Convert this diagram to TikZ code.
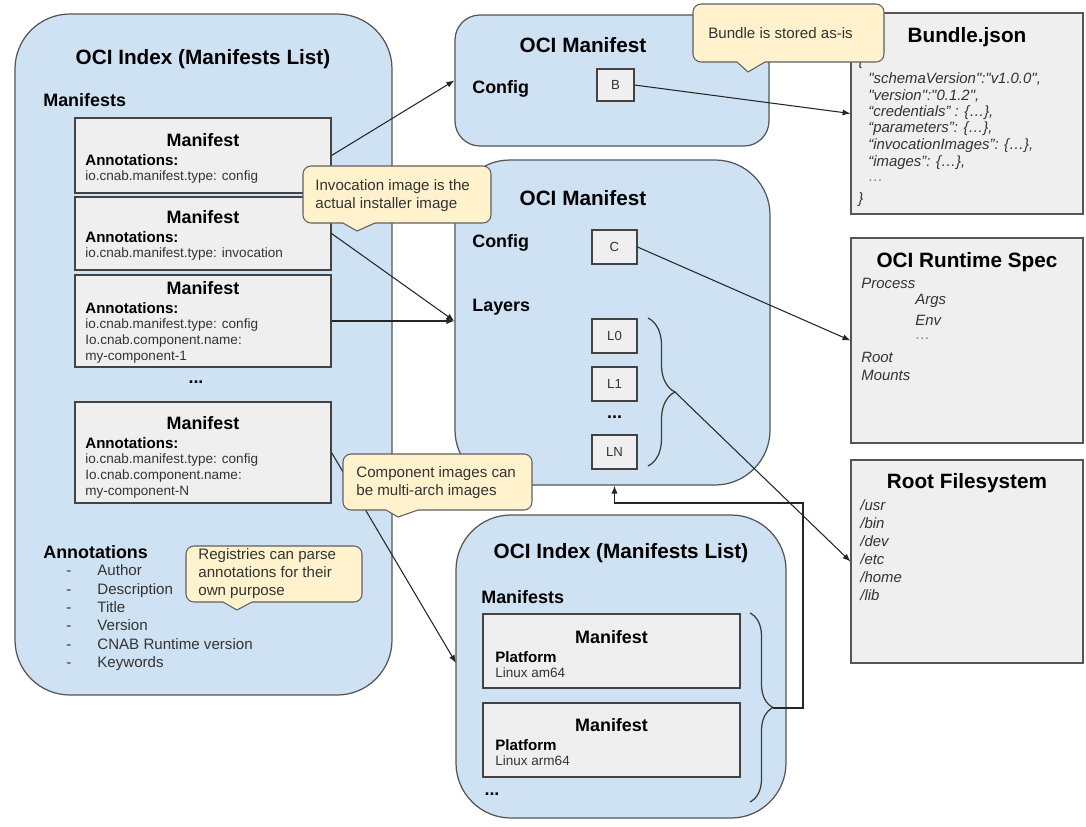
\documentclass[tikz,border=0pt]{standalone}
\usepackage{fontspec}
\setmainfont{Liberation Sans}[Ligatures=TeXOff]
\usetikzlibrary{arrows.meta,fit,decorations.pathreplacing}
\definecolor{groupBlue}{RGB}{207,226,243}
\definecolor{frameGray}{RGB}{85,85,85}
\definecolor{cardGray}{RGB}{239,239,239}
\definecolor{cardFrame}{RGB}{67,67,67}
\definecolor{noteYellow}{RGB}{255,242,204}
\definecolor{noteFrame}{RGB}{95,95,95}
\definecolor{inkGray}{RGB}{51,51,51}
\definecolor{dotsGray}{RGB}{125,125,125}
\newcommand{\fontHeading}{\fontsize{11.8}{14}\selectfont\bfseries}
\newcommand{\fontSection}{\fontsize{10.2}{12}\selectfont\bfseries}
\newcommand{\fontField}{\fontsize{8.6}{10}\selectfont\bfseries}
\newcommand{\fontBody}{\fontsize{7.7}{9}\selectfont}
\newcommand{\fontNote}{\fontsize{8.6}{10.2}\selectfont}
\newcommand{\fontSpec}{\fontsize{8.5}{10}\selectfont\itshape}
\tikzstyle{canvas} = [x = 0.02cm, y = -0.02cm]
\tikzstyle{groupBox} = [draw=frameGray, fill=groupBlue, line width=0.7pt, rounded corners = 1.1cm, inner sep=0pt]
\tikzstyle{smallGroupBox} = [groupBox, rounded corners = 0.5cm]
\tikzstyle{cardBox} = [draw=cardFrame, fill=cardGray, line width=0.6pt, inner sep=0pt]
\tikzstyle{sheetBox} = [cardBox, draw=frameGray]
\tikzstyle{tagBox} = [cardBox, minimum width=0.9cm, minimum height=0.68cm, font=\fontsize{7.5}{9}\selectfont, text=inkGray]
\tikzstyle{noteBox} = [draw=noteFrame, fill=noteYellow, line width=0.6pt, rounded corners = 0.16cm, inner sep=0pt]
\tikzstyle{heading} = [font=\fontHeading, inner sep=0pt]
\tikzstyle{cardHeading} = [font=\fontSection, inner sep=0pt]
\tikzstyle{sectionLabel} = [font=\fontSection, anchor=west, inner sep=0pt]
\tikzstyle{dotsLabel} = [font=\fontSection, inner sep=0pt]
\tikzstyle{fieldLabel} = [font=\fontField, anchor=west, inner sep=0pt]
\tikzstyle{fieldText} = [font=\fontBody, text=inkGray, anchor=west, inner sep=0pt]
\tikzstyle{listText} = [font=\fontNote, text=inkGray, anchor=west, inner sep=0pt, text height=6.3pt, text depth=1.8pt]
\tikzstyle{noteText} = [font=\fontNote, text=inkGray, anchor=west, align=left, inner sep=0pt]
\tikzstyle{specText} = [font=\fontSpec, text=inkGray, anchor=west, inner sep=0pt]
\tikzstyle{link} = [draw=black!85, line width=0.6pt, -{Latex[length=4.5pt, width=3.5pt]}]
\tikzstyle{bracket} = [draw=frameGray!70!black, line width=0.7pt, decorate]
\newcommand{\manifestCard}[5]{
  \node [cardBox, fit={(75,#2) (331,#3)}] (#1) {};
  \node [cardHeading] (#1Title) at (203,#4) {Manifest};
  \node [fieldLabel] (#1Label) at (85,#4 + 20) {Annotations:};
  \foreach \entry [count=\i] in {#5} {
    \node [fieldText] (#1Line\i) at (85,#4 + 21 + 16 * \i) {\entry};
  }
}
\newcommand{\platformCard}[5]{
  \node [cardBox, fit={(483,#2) (740,#3)}] (#1) {};
  \node [cardHeading] (#1Title) at (611.5,#4) {Manifest};
  \node [fieldLabel] (#1Label) at (495,#4 + 20) {Platform};
  \node [fieldText] (#1Line) at (495,#4 + 36) {#5};
}
\newcommand{\noteCallout}[9]{
  \node [noteBox, fit={(#2,#3) (#4,#5)}] (#1) {};
  \fill [noteYellow] (#6,#5 - 1.2) -- (#6,#5) -- (#8,#9) -- (#7,#5) -- (#7,#5 - 1.2) -- cycle;
  \draw [noteFrame, line width=0.6pt, line join=round] (#6,#5) -- (#8,#9) -- (#7,#5);
}
\begin{document}
\begin{tikzpicture}[canvas]
  \useasboundingbox [fill=white] (0,0) rectangle (1086,826);

  % containers
  \node [groupBox, fit={(15,14) (392,695)}] (cnabIndex) {};
  \node [smallGroupBox, fit={(455,15) (769,146)}] (bundleManifest) {};
  \node [groupBox, fit={(455,160) (770,485)}] (invocManifest) {};
  \node [groupBox, fit={(456,515) (786,818)}] (archIndex) {};

  % CNAB index
  \node [heading] (cnabIndexTitle) at (203,59) {OCI Index (Manifests List)};
  \node [sectionLabel] (cnabManifestsLbl) at (43,100) {Manifests};
  \manifestCard{cardConfig}{118}{193}{140}{io.cnab.manifest.type: config}
  \manifestCard{cardInvoc}{197}{270}{217}{io.cnab.manifest.type: invocation}
  \manifestCard{cardCompOne}{275}{367}{288}{io.cnab.manifest.type: config, Io.cnab.component.name:, my-component-1}
  \node [dotsLabel] (cnabDots) at (196,382) {...};
  \manifestCard{cardCompN}{402}{503}{423}{io.cnab.manifest.type: config, Io.cnab.component.name:, my-component-N}
  \node [sectionLabel] (annotLbl) at (43,552) {Annotations};
  \foreach \entry [count=\i] in {Author, Description, Title, Version, CNAB Runtime version, Keywords} {
    \node [listText] (annotDash\i) at (66,553.7 + 18.3 * \i) {-};
    \node [listText] (annotItem\i) at (97,553.7 + 18.3 * \i) {\entry};
  }

  % bundle manifest
  \node [heading] (bundleManifestTitle) at (583,45) {OCI Manifest};
  \node [sectionLabel] (bundleCfgLbl) at (472,89) {Config};
  \node [tagBox, minimum width=0.74cm, minimum height=0.64cm] (tagB) at (615.5,85) {B};

  % invocation manifest
  \node [heading] (invocManifestTitle) at (583,198) {OCI Manifest};
  \node [sectionLabel] (invocCfgLbl) at (472,243) {Config};
  \node [tagBox] (tagC) at (614.5,247) {C};
  \node [sectionLabel] (layersLbl) at (472,307) {Layers};
  \foreach \tag/\ypos in {L0/336, L1/384, LN/452} {
    \node [tagBox] (layer\tag) at (614.5,\ypos) {\tag};
  }
  \node [dotsLabel] (layerDots) at (614.5,417) {...};
  \draw [bracket, decoration={brace, amplitude=0.54cm}] (648,318) -- (648,466);
  \coordinate (layersTip) at (675,392);

  % multi-arch index
  \node [heading] (archIndexTitle) at (621,553) {OCI Index (Manifests List)};
  \node [sectionLabel] (archManifestsLbl) at (481,597) {Manifests};
  \platformCard{cardAmd}{614}{688}{637}{Linux am64}
  \platformCard{cardArm}{703}{777}{725}{Linux arm64}
  \node [dotsLabel] (archDots) at (492,794) {...};
  \draw [bracket, decoration={brace, amplitude=0.46cm}] (750,613) -- (750,802);
  \coordinate (variantsTip) at (773,708);

  % bundle.json
  \node [sheetBox, fit={(851,13) (1083,214)}] (bundleJson) {};
  \node [heading] (bundleJsonTitle) at (967,37) {Bundle.json};
  \node [specText] (jsonOpen) at (858,62) {\{};
  \foreach \entry [count=\i] in {{"schemaVersion":"v1.0.0",}, {"version":"0.1.2",}, {“credentials” : \{…\},}, {“parameters”: \{…\},}, {“invocationImages”: \{…\},}, {“images”: \{…\},}} {
    \node [specText] (jsonLine\i) at (868,62.3 + 16.7 * \i) {\entry};
  }
  \node [specText, text=dotsGray] (jsonDots) at (868,181) {…};
  \node [specText] (jsonClose) at (858,200) {\}};

  % runtime spec
  \node [sheetBox, fit={(851,238) (1083,443)}] (runtimeSpec) {};
  \node [heading] (runtimeTitle) at (967,262) {OCI Runtime Spec};
  \node [specText] (rtProcess) at (861,283) {Process};
  \node [specText] (rtArgs) at (915,301) {Args};
  \node [specText] (rtEnv) at (915,320) {Env};
  \node [specText, text=dotsGray] (rtDots) at (915,339) {…};
  \node [specText] (rtRoot) at (861,357) {Root};
  \node [specText] (rtMounts) at (861,375) {Mounts};

  % root filesystem
  \node [sheetBox, fit={(851,460) (1083,663)}] (rootFs) {};
  \node [heading] (rootFsTitle) at (967,483) {Root Filesystem};
  \foreach \dir [count=\i] in {/usr, /bin, /dev, /etc, /home, /lib} {
    \node [specText] (rootDir\i) at (860,487 + 18 * \i) {\dir};
  }

  % connectors
  \coordinate (variantsIn) at (456,663);
  \coordinate (loopCorner) at (803,503);
  \draw [link] (cardConfig.east) -- (bundleManifest.west);
  \draw [link] (cardInvoc.east) -- (invocManifest.west |- cardCompOne.east);
  \draw [link] (cardCompOne.east) -- (invocManifest.west |- cardCompOne.east);
  \draw [link] (cardCompN.east) -- (variantsIn);
  \draw [link] (tagB.east) -- (bundleJson.west);
  \draw [link] (tagC.east) -- (runtimeSpec.west);
  \draw [link] (layersTip) -- (rootFs.west);
  \draw [link] (variantsTip) -| (loopCorner) -| (invocManifest.south -| layerLN);

  % callouts
  \noteCallout{noteInvoc}{303}{166}{491}{223}{343}{375}{357}{231}
  \node [noteText] (noteInvocText) at (315,195.5) {Invocation image is the\\actual installer image};
  \noteCallout{noteBundle}{693}{4}{884}{62}{737}{765}{748}{72}
  \node [noteText] (noteBundleText) at (708,33) {Bundle is stored as-is};
  \noteCallout{noteArch}{343}{454}{532}{510}{386}{418}{398}{517}
  \node [noteText] (noteArchText) at (356,483) {Component images can\\be multi-arch images};
  \noteCallout{noteRegistry}{186}{546}{362}{602}{223}{252}{237}{610}
  \node [noteText] (noteRegistryText) at (198,574) {Registries can parse\\annotations for their\\own purpose};
\end{tikzpicture}
\end{document}
